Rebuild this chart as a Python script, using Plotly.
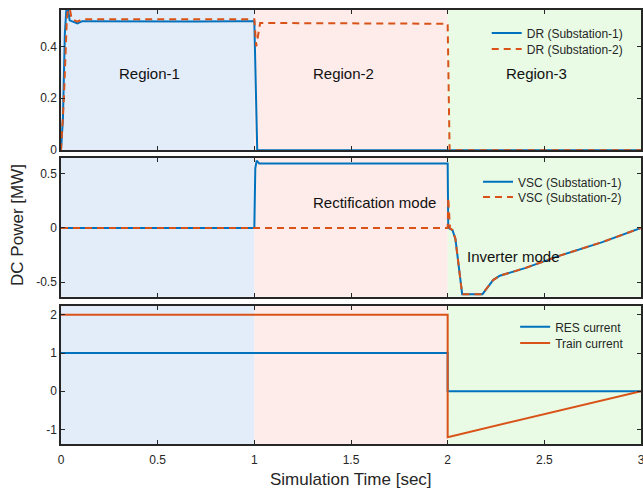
import plotly.graph_objects as go

# ---------------- data ----------------
dr1_t = [0, 0.01, 0.02, 0.03, 0.045, 0.06, 0.085, 0.11, 0.3, 0.5, 0.7, 0.9, 1.0, 1.015, 3.0]
dr1_v = [0, 0.12, 0.45, 0.57, 0.50, 0.495, 0.488, 0.497, 0.496, 0.497, 0.496, 0.497, 0.497, 0, 0]

dr2_t = [0, 0.015, 0.03, 0.04, 0.055, 0.085, 0.11, 1.0, 1.01, 1.03, 1.05, 1.5, 2.0, 2.01, 3.0]
dr2_v = [0, 0.2, 0.5, 0.57, 0.505, 0.495, 0.504, 0.504, 0.40, 0.49, 0.49, 0.488, 0.487, 0, 0]

vsc1_t = [0, 1.0, 1.005, 1.012, 1.025, 2.0, 2.003, 2.025, 2.04, 2.075, 2.18, 2.2, 2.235, 2.27, 2.4, 2.58, 2.8, 3.0]
vsc1_v = [0, 0, 0.55, 0.62, 0.594, 0.594, 0.0, -0.02, -0.1, -0.61, -0.61, -0.56, -0.48, -0.44, -0.37, -0.255, -0.13, 0.0]

vsc2_t = [0, 2.0, 2.003, 2.012, 2.025, 2.04, 2.075, 2.18, 2.2, 2.235, 2.27, 2.4, 2.58, 2.8, 3.0]
vsc2_v = [0, 0, 0.28, 0.0, -0.02, -0.1, -0.61, -0.61, -0.56, -0.48, -0.44, -0.37, -0.255, -0.13, 0.0]

res_t = [0, 2.0, 2.0, 3.0]
res_v = [1, 1, 0, 0]
train_t = [0, 2.0, 2.0, 3.0]
train_v = [2, 2, -1.2, 0]

regions = [(0, 1, "rgb(227,237,249)"), (1, 2, "rgb(253,236,234)"), (2, 3, "rgb(233,251,229)")]
x_ticks = [0, 0.5, 1, 1.5, 2, 2.5, 3]

BLUE = "#0072BD"
ORANGE = "#D95319"
FONT = "Liberation Sans, Arial, sans-serif"
AX = "#262626"

fig = go.Figure()

def add(t, v, name, color, dash, xa, ya, legend):
    fig.add_trace(go.Scatter(x=t, y=v, mode="lines", name=name, showlegend=True,
                             line=dict(color=color, width=2, dash=dash),
                             xaxis=xa, yaxis=ya, legend=legend))

add(dr1_t, dr1_v, "DR (Substation-1)", BLUE, "solid", "x", "y", "legend")
add(dr2_t, dr2_v, "DR (Substation-2)", ORANGE, "7px,5px", "x", "y", "legend2")
add(vsc1_t, vsc1_v, "VSC (Substation-1)", BLUE, "solid", "x2", "y2", "legend3")
add(vsc2_t, vsc2_v, "VSC (Substation-2)", ORANGE, "7px,5px", "x2", "y2", "legend4")
add(res_t, res_v, "RES current", BLUE, "solid", "x3", "y3", "legend5")
add(train_t, train_v, "Train current", ORANGE, "solid", "x3", "y3", "legend6")

shapes = []
for xr, yr in [("x", "y"), ("x2", "y2"), ("x3", "y3")]:
    for a, b, c in regions:
        shapes.append(dict(type="rect", xref=xr, yref=yr + " domain", x0=a, x1=b, y0=0, y1=1,
                           fillcolor=c, line=dict(width=0), layer="below"))
fig.update_layout(shapes=shapes)

def xax(show_labels, anchor):
    return dict(domain=[0, 1], range=[0, 3], tickvals=x_ticks, showticklabels=show_labels,
                ticks="inside", ticklen=4, tickcolor=AX, showline=True, linecolor=AX, linewidth=1.5,
                mirror="ticks", showgrid=False, zeroline=False, anchor=anchor, automargin=False,
                ticklabelstandoff=4, ticklabeloverflow="allow",
                tickfont=dict(family=FONT, size=12, color=AX))

def yax(dom, rng, tv, tt, anchor):
    return dict(domain=dom, range=rng, tickvals=tv, ticktext=tt,
                ticks="inside", ticklen=4, tickcolor=AX, showline=True, linecolor=AX, linewidth=1.5,
                mirror="ticks", showgrid=False, zeroline=False, anchor=anchor, automargin=False,
                tickfont=dict(family=FONT, size=12, color=AX))

def leg(x, y):
    return dict(x=x, y=y, bgcolor="rgba(0,0,0,0)", borderwidth=0,
                font=dict(family=FONT, size=12, color=AX),
                xanchor="left", yanchor="middle")

fig.update_layout(
    width=643, height=492,
    showlegend=True,
    margin=dict(l=61, r=2, t=10, b=48, autoexpand=False),
    plot_bgcolor="white", paper_bgcolor="white",
    xaxis=xax(False, "y"),
    xaxis2=xax(False, "y2"),
    xaxis3=xax(True, "y3"),
    yaxis=yax([0.677, 1], [0, 0.54], [0, 0.2, 0.4], ["0", "0.2", "0.4"], "x"),
    yaxis2=yax([0.339, 0.659], [-0.635, 0.645], [-0.5, 0, 0.5], ["-0.5", "0", "0.5"], "x2"),
    yaxis3=yax([0, 0.318], [-1.38, 2.23], [-1, 0, 1, 2], ["-1", "0", "1", "2"], "x3"),
    legend=leg(0.734, 0.947),
    legend2=leg(0.734, 0.910),
    legend3=leg(0.719, 0.604),
    legend4=leg(0.719, 0.569),
    legend5=leg(0.783, 0.270),
    legend6=leg(0.783, 0.233),
    annotations=[
        dict(text="Region-1", x=0.46, y=0.296, xref="x", yref="y", showarrow=False,
             font=dict(family=FONT, size=15, color="#111")),
        dict(text="Region-2", x=1.46, y=0.296, xref="x", yref="y", showarrow=False,
             font=dict(family=FONT, size=15, color="#111")),
        dict(text="Region-3", x=2.46, y=0.296, xref="x", yref="y", showarrow=False,
             font=dict(family=FONT, size=15, color="#111")),
        dict(text="Rectification mode", x=1.62, y=0.232, xref="x2", yref="y2", showarrow=False,
             font=dict(family=FONT, size=15, color="#111")),
        dict(text="Inverter mode", x=2.34, y=-0.266, xref="x2", yref="y2", showarrow=False,
             font=dict(family=FONT, size=15, color="#111")),
        dict(text="DC Power [MW]", x=-0.074, y=0.505, xref="paper", yref="paper", showarrow=False,
             xanchor="center", yanchor="middle",
             textangle=-90, font=dict(family=FONT, size=17, color=AX)),
        dict(text="Simulation Time [sec]", x=0.5, y=-0.081, xref="paper", yref="paper", showarrow=False,
             xanchor="center", yanchor="middle",
             font=dict(family=FONT, size=17, color=AX)),
    ],
)

# remove the browser's default 8px body margin so the 643x492 figure fills the window exactly
fig.write_html("out.html", config={"displayModeBar": False},
               post_script="document.body.style.margin='0px';")
